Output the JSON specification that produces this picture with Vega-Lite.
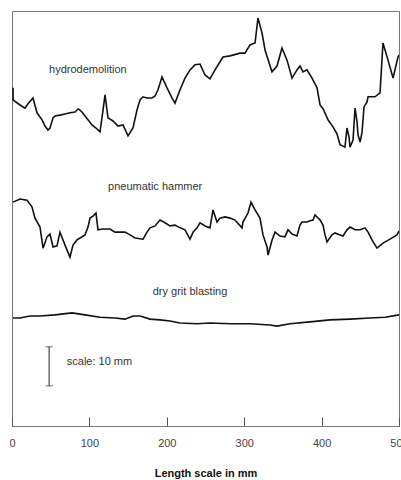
{
  "$schema": "https://vega.github.io/schema/vega-lite/v6.json",
  "width": 387,
  "height": 415,
  "autosize": "none",
  "padding": {"left": 12, "top": 11, "right": 2, "bottom": 54},
  "config": {
    "view": {"stroke": "#777", "strokeWidth": 1},
    "font": "Liberation Sans"
  },
  "datasets": {
    "profiles": [
      {"series": "hydrodemolition", "x": 1.3, "y": 86.7},
      {"series": "hydrodemolition", "x": 1.4, "y": 83.6},
      {"series": "hydrodemolition", "x": 10.3, "y": 82.3},
      {"series": "hydrodemolition", "x": 16.8, "y": 81.5},
      {"series": "hydrodemolition", "x": 20.7, "y": 82.6},
      {"series": "hydrodemolition", "x": 27.1, "y": 84.1},
      {"series": "hydrodemolition", "x": 32.3, "y": 80.3},
      {"series": "hydrodemolition", "x": 38.8, "y": 78.5},
      {"series": "hydrodemolition", "x": 42.6, "y": 76.9},
      {"series": "hydrodemolition", "x": 46.5, "y": 75.9},
      {"series": "hydrodemolition", "x": 49.1, "y": 76.4},
      {"series": "hydrodemolition", "x": 53.0, "y": 79.0},
      {"series": "hydrodemolition", "x": 55.6, "y": 79.5},
      {"series": "hydrodemolition", "x": 62.0, "y": 79.7},
      {"series": "hydrodemolition", "x": 68.5, "y": 80.0},
      {"series": "hydrodemolition", "x": 74.9, "y": 80.3},
      {"series": "hydrodemolition", "x": 81.4, "y": 80.5},
      {"series": "hydrodemolition", "x": 85.3, "y": 81.3},
      {"series": "hydrodemolition", "x": 87.9, "y": 81.0},
      {"series": "hydrodemolition", "x": 90.4, "y": 80.5},
      {"series": "hydrodemolition", "x": 94.3, "y": 79.5},
      {"series": "hydrodemolition", "x": 98.2, "y": 78.5},
      {"series": "hydrodemolition", "x": 103.4, "y": 77.2},
      {"series": "hydrodemolition", "x": 108.5, "y": 76.4},
      {"series": "hydrodemolition", "x": 113.7, "y": 75.4},
      {"series": "hydrodemolition", "x": 117.6, "y": 81.0},
      {"series": "hydrodemolition", "x": 120.2, "y": 84.9},
      {"series": "hydrodemolition", "x": 124.0, "y": 79.0},
      {"series": "hydrodemolition", "x": 130.5, "y": 78.2},
      {"series": "hydrodemolition", "x": 137.0, "y": 76.9},
      {"series": "hydrodemolition", "x": 143.4, "y": 77.2},
      {"series": "hydrodemolition", "x": 149.9, "y": 74.4},
      {"series": "hydrodemolition", "x": 156.3, "y": 76.4},
      {"series": "hydrodemolition", "x": 161.5, "y": 81.0},
      {"series": "hydrodemolition", "x": 165.4, "y": 83.6},
      {"series": "hydrodemolition", "x": 169.3, "y": 84.4},
      {"series": "hydrodemolition", "x": 174.4, "y": 84.1},
      {"series": "hydrodemolition", "x": 180.9, "y": 84.1},
      {"series": "hydrodemolition", "x": 184.8, "y": 84.6},
      {"series": "hydrodemolition", "x": 188.6, "y": 86.2},
      {"series": "hydrodemolition", "x": 193.8, "y": 89.5},
      {"series": "hydrodemolition", "x": 200.3, "y": 86.7},
      {"series": "hydrodemolition", "x": 206.7, "y": 84.1},
      {"series": "hydrodemolition", "x": 210.6, "y": 82.8},
      {"series": "hydrodemolition", "x": 217.1, "y": 86.2},
      {"series": "hydrodemolition", "x": 223.5, "y": 89.2},
      {"series": "hydrodemolition", "x": 230.0, "y": 91.3},
      {"series": "hydrodemolition", "x": 236.4, "y": 92.6},
      {"series": "hydrodemolition", "x": 242.9, "y": 92.8},
      {"series": "hydrodemolition", "x": 249.4, "y": 90.0},
      {"series": "hydrodemolition", "x": 255.8, "y": 89.0},
      {"series": "hydrodemolition", "x": 262.3, "y": 91.3},
      {"series": "hydrodemolition", "x": 272.6, "y": 94.6},
      {"series": "hydrodemolition", "x": 281.7, "y": 94.9},
      {"series": "hydrodemolition", "x": 294.6, "y": 95.6},
      {"series": "hydrodemolition", "x": 301.0, "y": 95.6},
      {"series": "hydrodemolition", "x": 307.5, "y": 97.7},
      {"series": "hydrodemolition", "x": 314.0, "y": 98.2},
      {"series": "hydrodemolition", "x": 317.8, "y": 104.6},
      {"series": "hydrodemolition", "x": 323.0, "y": 100.8},
      {"series": "hydrodemolition", "x": 326.9, "y": 96.4},
      {"series": "hydrodemolition", "x": 335.9, "y": 90.8},
      {"series": "hydrodemolition", "x": 342.4, "y": 92.3},
      {"series": "hydrodemolition", "x": 348.8, "y": 96.9},
      {"series": "hydrodemolition", "x": 355.3, "y": 93.8},
      {"series": "hydrodemolition", "x": 361.8, "y": 89.2},
      {"series": "hydrodemolition", "x": 368.2, "y": 91.3},
      {"series": "hydrodemolition", "x": 372.1, "y": 92.3},
      {"series": "hydrodemolition", "x": 376.0, "y": 90.8},
      {"series": "hydrodemolition", "x": 381.1, "y": 91.3},
      {"series": "hydrodemolition", "x": 387.6, "y": 89.2},
      {"series": "hydrodemolition", "x": 394.1, "y": 86.7},
      {"series": "hydrodemolition", "x": 398.0, "y": 82.3},
      {"series": "hydrodemolition", "x": 402.0, "y": 81.3},
      {"series": "hydrodemolition", "x": 408.3, "y": 78.5},
      {"series": "hydrodemolition", "x": 414.7, "y": 76.7},
      {"series": "hydrodemolition", "x": 419.9, "y": 74.9},
      {"series": "hydrodemolition", "x": 423.8, "y": 72.1},
      {"series": "hydrodemolition", "x": 430.2, "y": 71.5},
      {"series": "hydrodemolition", "x": 432.8, "y": 76.4},
      {"series": "hydrodemolition", "x": 435.4, "y": 74.1},
      {"series": "hydrodemolition", "x": 436.7, "y": 71.5},
      {"series": "hydrodemolition", "x": 440.6, "y": 73.3},
      {"series": "hydrodemolition", "x": 443.2, "y": 81.5},
      {"series": "hydrodemolition", "x": 445.8, "y": 77.9},
      {"series": "hydrodemolition", "x": 447.1, "y": 74.6},
      {"series": "hydrodemolition", "x": 449.7, "y": 72.8},
      {"series": "hydrodemolition", "x": 452.3, "y": 75.4},
      {"series": "hydrodemolition", "x": 454.8, "y": 81.8},
      {"series": "hydrodemolition", "x": 458.7, "y": 83.1},
      {"series": "hydrodemolition", "x": 460.0, "y": 84.4},
      {"series": "hydrodemolition", "x": 469.0, "y": 84.4},
      {"series": "hydrodemolition", "x": 475.5, "y": 85.4},
      {"series": "hydrodemolition", "x": 478.0, "y": 93.8},
      {"series": "hydrodemolition", "x": 479.3, "y": 98.2},
      {"series": "hydrodemolition", "x": 485.8, "y": 93.8},
      {"series": "hydrodemolition", "x": 492.3, "y": 89.2},
      {"series": "hydrodemolition", "x": 498.7, "y": 94.6},
      {"series": "hydrodemolition", "x": 500.0, "y": 95.1},
      {"series": "pneumatic hammer", "x": 1.3, "y": 57.4},
      {"series": "pneumatic hammer", "x": 10.3, "y": 58.2},
      {"series": "pneumatic hammer", "x": 19.4, "y": 57.9},
      {"series": "pneumatic hammer", "x": 25.8, "y": 56.2},
      {"series": "pneumatic hammer", "x": 29.7, "y": 53.3},
      {"series": "pneumatic hammer", "x": 36.2, "y": 51.0},
      {"series": "pneumatic hammer", "x": 40.1, "y": 45.6},
      {"series": "pneumatic hammer", "x": 45.2, "y": 48.5},
      {"series": "pneumatic hammer", "x": 49.1, "y": 49.2},
      {"series": "pneumatic hammer", "x": 53.0, "y": 45.9},
      {"series": "pneumatic hammer", "x": 58.1, "y": 46.2},
      {"series": "pneumatic hammer", "x": 62.0, "y": 49.7},
      {"series": "pneumatic hammer", "x": 65.9, "y": 47.7},
      {"series": "pneumatic hammer", "x": 71.1, "y": 45.1},
      {"series": "pneumatic hammer", "x": 74.9, "y": 43.3},
      {"series": "pneumatic hammer", "x": 78.8, "y": 46.4},
      {"series": "pneumatic hammer", "x": 84.0, "y": 47.7},
      {"series": "pneumatic hammer", "x": 87.9, "y": 48.2},
      {"series": "pneumatic hammer", "x": 94.3, "y": 49.0},
      {"series": "pneumatic hammer", "x": 98.2, "y": 51.0},
      {"series": "pneumatic hammer", "x": 100.8, "y": 53.3},
      {"series": "pneumatic hammer", "x": 104.7, "y": 53.8},
      {"series": "pneumatic hammer", "x": 108.5, "y": 54.6},
      {"series": "pneumatic hammer", "x": 111.1, "y": 50.3},
      {"series": "pneumatic hammer", "x": 117.6, "y": 50.5},
      {"series": "pneumatic hammer", "x": 126.6, "y": 50.5},
      {"series": "pneumatic hammer", "x": 133.1, "y": 49.7},
      {"series": "pneumatic hammer", "x": 139.5, "y": 49.7},
      {"series": "pneumatic hammer", "x": 146.0, "y": 49.7},
      {"series": "pneumatic hammer", "x": 152.5, "y": 49.0},
      {"series": "pneumatic hammer", "x": 158.9, "y": 48.2},
      {"series": "pneumatic hammer", "x": 169.3, "y": 47.9},
      {"series": "pneumatic hammer", "x": 174.4, "y": 49.7},
      {"series": "pneumatic hammer", "x": 178.3, "y": 50.8},
      {"series": "pneumatic hammer", "x": 184.8, "y": 51.3},
      {"series": "pneumatic hammer", "x": 191.2, "y": 52.8},
      {"series": "pneumatic hammer", "x": 197.7, "y": 52.1},
      {"series": "pneumatic hammer", "x": 204.1, "y": 51.3},
      {"series": "pneumatic hammer", "x": 210.6, "y": 51.5},
      {"series": "pneumatic hammer", "x": 217.1, "y": 50.8},
      {"series": "pneumatic hammer", "x": 223.5, "y": 50.3},
      {"series": "pneumatic hammer", "x": 230.0, "y": 47.9},
      {"series": "pneumatic hammer", "x": 233.9, "y": 49.7},
      {"series": "pneumatic hammer", "x": 239.0, "y": 50.8},
      {"series": "pneumatic hammer", "x": 242.9, "y": 52.1},
      {"series": "pneumatic hammer", "x": 249.4, "y": 51.3},
      {"series": "pneumatic hammer", "x": 255.8, "y": 50.8},
      {"series": "pneumatic hammer", "x": 259.7, "y": 55.4},
      {"series": "pneumatic hammer", "x": 264.9, "y": 52.3},
      {"series": "pneumatic hammer", "x": 268.7, "y": 53.3},
      {"series": "pneumatic hammer", "x": 275.2, "y": 53.6},
      {"series": "pneumatic hammer", "x": 281.7, "y": 53.3},
      {"series": "pneumatic hammer", "x": 288.1, "y": 52.8},
      {"series": "pneumatic hammer", "x": 297.2, "y": 50.8},
      {"series": "pneumatic hammer", "x": 298.4, "y": 52.3},
      {"series": "pneumatic hammer", "x": 304.9, "y": 54.6},
      {"series": "pneumatic hammer", "x": 308.8, "y": 57.4},
      {"series": "pneumatic hammer", "x": 314.0, "y": 55.4},
      {"series": "pneumatic hammer", "x": 320.4, "y": 53.3},
      {"series": "pneumatic hammer", "x": 324.3, "y": 49.0},
      {"series": "pneumatic hammer", "x": 329.5, "y": 45.9},
      {"series": "pneumatic hammer", "x": 330.8, "y": 43.8},
      {"series": "pneumatic hammer", "x": 336.0, "y": 47.7},
      {"series": "pneumatic hammer", "x": 339.8, "y": 49.7},
      {"series": "pneumatic hammer", "x": 346.3, "y": 48.7},
      {"series": "pneumatic hammer", "x": 352.7, "y": 48.5},
      {"series": "pneumatic hammer", "x": 356.6, "y": 50.3},
      {"series": "pneumatic hammer", "x": 361.8, "y": 49.2},
      {"series": "pneumatic hammer", "x": 368.2, "y": 48.7},
      {"series": "pneumatic hammer", "x": 372.1, "y": 51.5},
      {"series": "pneumatic hammer", "x": 374.7, "y": 52.3},
      {"series": "pneumatic hammer", "x": 381.1, "y": 52.3},
      {"series": "pneumatic hammer", "x": 385.0, "y": 52.6},
      {"series": "pneumatic hammer", "x": 388.9, "y": 52.8},
      {"series": "pneumatic hammer", "x": 391.5, "y": 54.1},
      {"series": "pneumatic hammer", "x": 398.0, "y": 52.8},
      {"series": "pneumatic hammer", "x": 401.8, "y": 51.5},
      {"series": "pneumatic hammer", "x": 404.4, "y": 49.0},
      {"series": "pneumatic hammer", "x": 407.0, "y": 47.2},
      {"series": "pneumatic hammer", "x": 413.4, "y": 49.0},
      {"series": "pneumatic hammer", "x": 417.3, "y": 49.5},
      {"series": "pneumatic hammer", "x": 423.8, "y": 49.0},
      {"series": "pneumatic hammer", "x": 427.7, "y": 48.7},
      {"series": "pneumatic hammer", "x": 432.8, "y": 50.3},
      {"series": "pneumatic hammer", "x": 436.7, "y": 51.0},
      {"series": "pneumatic hammer", "x": 443.2, "y": 50.3},
      {"series": "pneumatic hammer", "x": 449.6, "y": 50.3},
      {"series": "pneumatic hammer", "x": 456.1, "y": 50.8},
      {"series": "pneumatic hammer", "x": 460.0, "y": 49.7},
      {"series": "pneumatic hammer", "x": 465.1, "y": 47.7},
      {"series": "pneumatic hammer", "x": 471.6, "y": 45.6},
      {"series": "pneumatic hammer", "x": 479.3, "y": 46.9},
      {"series": "pneumatic hammer", "x": 488.4, "y": 47.9},
      {"series": "pneumatic hammer", "x": 497.4, "y": 49.0},
      {"series": "pneumatic hammer", "x": 500.0, "y": 50.0},
      {"series": "dry grit blasting", "x": 1.3, "y": 27.7},
      {"series": "dry grit blasting", "x": 10.3, "y": 27.7},
      {"series": "dry grit blasting", "x": 23.3, "y": 28.2},
      {"series": "dry grit blasting", "x": 36.2, "y": 28.2},
      {"series": "dry grit blasting", "x": 55.6, "y": 28.5},
      {"series": "dry grit blasting", "x": 77.5, "y": 29.0},
      {"series": "dry grit blasting", "x": 94.3, "y": 28.5},
      {"series": "dry grit blasting", "x": 113.7, "y": 27.9},
      {"series": "dry grit blasting", "x": 133.1, "y": 27.7},
      {"series": "dry grit blasting", "x": 146.0, "y": 27.4},
      {"series": "dry grit blasting", "x": 156.3, "y": 28.2},
      {"series": "dry grit blasting", "x": 165.4, "y": 28.2},
      {"series": "dry grit blasting", "x": 178.3, "y": 27.4},
      {"series": "dry grit blasting", "x": 191.2, "y": 27.2},
      {"series": "dry grit blasting", "x": 204.1, "y": 26.9},
      {"series": "dry grit blasting", "x": 217.1, "y": 26.4},
      {"series": "dry grit blasting", "x": 239.0, "y": 26.2},
      {"series": "dry grit blasting", "x": 255.8, "y": 26.4},
      {"series": "dry grit blasting", "x": 281.7, "y": 26.2},
      {"series": "dry grit blasting", "x": 307.5, "y": 26.2},
      {"series": "dry grit blasting", "x": 333.3, "y": 25.9},
      {"series": "dry grit blasting", "x": 342.4, "y": 25.6},
      {"series": "dry grit blasting", "x": 359.2, "y": 26.2},
      {"series": "dry grit blasting", "x": 385.0, "y": 26.7},
      {"series": "dry grit blasting", "x": 410.9, "y": 27.2},
      {"series": "dry grit blasting", "x": 436.7, "y": 27.4},
      {"series": "dry grit blasting", "x": 462.5, "y": 27.7},
      {"series": "dry grit blasting", "x": 481.9, "y": 27.9},
      {"series": "dry grit blasting", "x": 500.0, "y": 28.5}
    ],
    "labels": [
      {"text": "hydrodemolition", "x": 98, "y": 91.3},
      {"text": "pneumatic hammer", "x": 185, "y": 61.3},
      {"text": "dry grit blasting", "x": 230, "y": 34.4},
      {"text": "scale: 10 mm", "x": 113, "y": 16.4}
    ],
    "scalebar": [
      {"x": 48, "y": 10.3, "y2": 20.3}
    ],
    "caps": [
      {"x": 48, "y": 10.3},
      {"x": 48, "y": 20.3}
    ]
  },
  "layer": [
    {
      "data": {"name": "profiles"},
      "mark": {"type": "line", "color": "#111", "strokeWidth": 1.6, "clip": true},
      "encoding": {
        "x": {
          "field": "x", "type": "quantitative",
          "scale": {"domain": [0, 500], "nice": false},
          "axis": {
            "values": [0, 100, 200, 300, 400, 500],
            "title": "Length scale in mm",
            "titleFontWeight": "bold",
            "titleFontSize": 11,
            "titleColor": "#111",
            "titlePadding": 19,
            "labelFontSize": 11,
            "labelColor": "#444",
            "labelPadding": 20,
            "tickSize": -9,
            "tickColor": "#555",
            "domainColor": "#777",
            "grid": false,
            "labelFlush": false,
            "labelOverlap": false
          }
        },
        "y": {
          "field": "y", "type": "quantitative",
          "scale": {"domain": [0, 106.4], "nice": false, "zero": false},
          "axis": null
        },
        "detail": {"field": "series"}
      }
    },
    {
      "data": {"name": "labels"},
      "mark": {"type": "text", "fontSize": 11, "color": "#333", "baseline": "middle", "align": "center"},
      "encoding": {
        "x": {"field": "x", "type": "quantitative"},
        "y": {"field": "y", "type": "quantitative"},
        "text": {"field": "text"}
      }
    },
    {
      "data": {"name": "scalebar"},
      "mark": {"type": "rule", "color": "#444", "strokeWidth": 1.2},
      "encoding": {
        "x": {"field": "x", "type": "quantitative"},
        "y": {"field": "y", "type": "quantitative"},
        "y2": {"field": "y2"}
      }
    },
    {
      "data": {"name": "caps"},
      "mark": {"type": "tick", "color": "#444", "orient": "horizontal", "size": 7, "thickness": 1.2},
      "encoding": {
        "x": {"field": "x", "type": "quantitative"},
        "y": {"field": "y", "type": "quantitative"}
      }
    }
  ]
}
